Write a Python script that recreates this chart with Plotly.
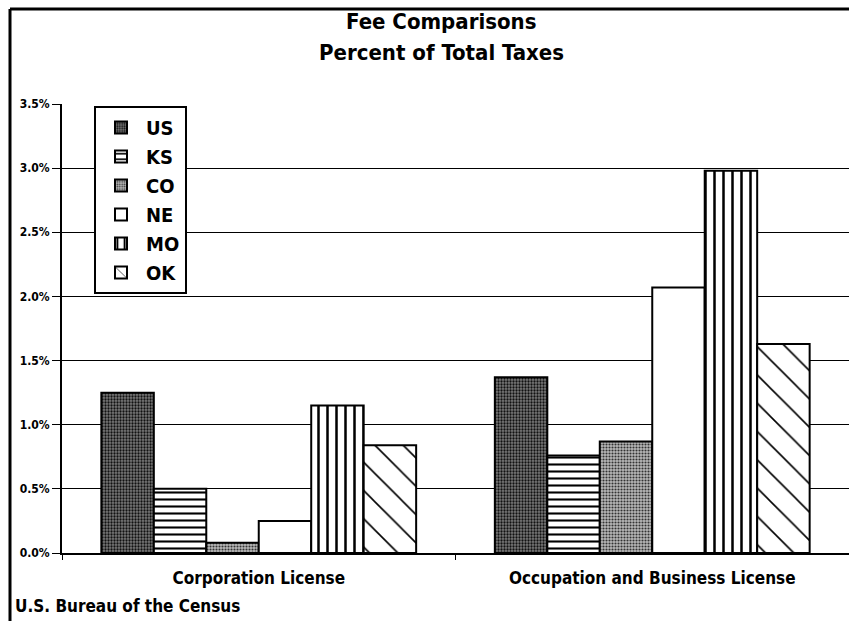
import plotly.graph_objects as go

categories = ["Corporation License", "Occupation and Business License"]
states = ["US", "KS", "CO", "NE", "MO", "OK"]

us = [1.25, 1.37]
ks = [0.50, 0.76]
co = [0.08, 0.87]
ne = [0.25, 2.07]
mo = [1.15, 2.98]
ok = [0.84, 1.63]

y_ticks = [0.0, 0.5, 1.0, 1.5, 2.0, 2.5, 3.0, 3.5]
y_tick_text = ["0.0%", "0.5%", "1.0%", "1.5%", "2.0%", "2.5%", "3.0%", "3.5%"]

title_lines = ["Fee Comparisons", "Percent of Total Taxes"]
source_note = "U.S. Bureau of the Census"

FONT = "DejaVu Sans Condensed, Liberation Sans Narrow, Arial Narrow, Liberation Sans, Arial"

patterns = {
    "US": dict(shape=".", fgcolor="#111111", bgcolor="#7a7a7a", size=3, solidity=0.45, fillmode="replace"),
    "KS": dict(shape="-", fgcolor="black", bgcolor="white", size=7, solidity=0.3, fillmode="replace"),
    "CO": dict(shape=".", fgcolor="#333333", bgcolor="#b8b8b8", size=3, solidity=0.4, fillmode="replace"),
    "NE": dict(shape="", fgcolor="black", bgcolor="white"),
    "MO": dict(shape="|", fgcolor="black", bgcolor="white", size=9, solidity=0.28, fillmode="replace"),
    "OK": dict(shape="\\", fgcolor="black", bgcolor="white", size=20, solidity=0.08, fillmode="replace"),
}

series = [us, ks, co, ne, mo, ok]

fig = go.Figure()
for name, vals in zip(states, series):
    fig.add_trace(go.Bar(
        x=categories, y=vals, name=name,
        marker=dict(color="white", line=dict(color="black", width=2),
                    pattern=patterns[name]),
    ))

# page geometry used to place items outside the plotting area
W, H = 849, 621
ML, MR, MT, MB = 62, 0, 104, 68
plot_w = W - ML - MR
plot_h = H - MT - MB


def px_x(x):
    return (x - ML) / plot_w


def px_y(y):
    return (H - MB - y) / plot_h


fig.update_layout(
    width=W, height=H,
    margin=dict(l=ML, r=MR, t=MT, b=MB),
    paper_bgcolor="white", plot_bgcolor="white",
    barmode="group", bargap=0.2, bargroupgap=0,
    font=dict(family=FONT, color="black", weight="bold"),
    showlegend=True,
    legend=dict(
        x=px_x(94), xanchor="left", y=px_y(106), yanchor="top",
        bordercolor="black", borderwidth=2, bgcolor="white",
        font=dict(family=FONT, size=20, color="black", weight="bold"),
        itemwidth=40, tracegroupgap=0,
    ),
    xaxis=dict(
        range=[-0.5, 1.5], showgrid=False, showline=True,
        linecolor="black", linewidth=2, mirror=False,
        ticks="outside", tickson="boundaries", ticklen=5, tickcolor="black",
        tickfont=dict(family=FONT, size=17, color="black", weight="bold"),
        ticklabelstandoff=9,
    ),
    yaxis=dict(
        range=[0, 3.5], tickvals=y_ticks, ticktext=y_tick_text,
        showgrid=True, gridcolor="black", gridwidth=1.3,
        showline=True, linecolor="black", linewidth=2,
        ticks="outside", ticklen=8, tickcolor="black",
        tickfont=dict(family=FONT, size=12, color="black", weight="bold"),
        zeroline=False,
    ),
)

# title lines
for text, ypix in zip(title_lines, [22, 52]):
    fig.add_annotation(
        text=text, xref="paper", yref="paper",
        x=px_x(441), y=px_y(ypix), xanchor="center", yanchor="middle",
        showarrow=False,
        font=dict(family=FONT, size=22, color="black", weight="bold"),
    )

# outer frame of the page (left and top edges)
fig.add_shape(type="line", xref="paper", yref="paper",
              x0=px_x(10), x1=px_x(10), y0=px_y(H), y1=px_y(9),
              line=dict(color="black", width=3))
fig.add_shape(type="line", xref="paper", yref="paper",
              x0=px_x(10), x1=px_x(W + 5), y0=px_y(9), y1=px_y(9),
              line=dict(color="black", width=3))

fig.add_annotation(
    text=source_note, xref="paper", yref="paper",
    x=px_x(13), y=px_y(606), xanchor="left", yanchor="middle",
    showarrow=False,
    font=dict(family=FONT, size=17, color="black", weight="bold"),
)

fig.write_html("out.html")
